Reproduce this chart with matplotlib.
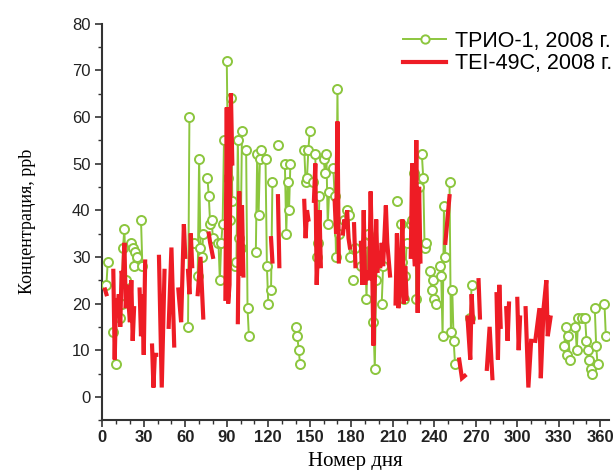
import numpy as np
import matplotlib
matplotlib.use("Agg")
import matplotlib.pyplot as plt
from matplotlib.ticker import MultipleLocator

nan = np.nan

# TRIO-1 daily values (day of year, ppb); gaps where days are missing
trio_day = [3, 4, 8, 10, 13, 14, 15, 16, 17, 21, 22, 23, 24, 25, 28, 29,
            62, 63, 66, 69, 70, 71, 72, 73, 76, 77, 78, 79, 80, 84, 85, 86, 87, 88,
            90, 91, 92, 93, 94, 96, 97, 98, 99, 100, 101, 104, 105, 106,
            111, 112, 113, 114, 115, 118, 119, 120, 122, 123, 127, 132, 133, 134, 135, 136,
            140, 141, 142, 143,
            146, 147, 148, 149, 150, 152, 154, 155, 156, 157, 160, 161, 162, 163, 164,
            167, 168, 169, 170, 171, 175, 177, 178, 179, 181, 183, 187, 190, 191, 192,
            196, 197, 198, 199, 202, 203,
            213, 216, 217, 218, 219, 220, 223, 224, 225, 226, 227, 229, 231, 232, 233, 234,
            237, 238, 239, 240, 241, 244, 245, 246, 247, 248, 251, 252, 253, 254, 255,
            266, 267,
            334, 335, 336, 337, 338, 342, 343, 344, 347, 349, 350, 351, 352, 353, 354,
            356, 357, 358, 363, 364]
trio_val = [24, 29, 14, 7, 17, 20, 32, 36, 25, 33, 32, 28, 31, 30, 38, 28,
            15, 60, 33, 26, 51, 32, 30, 35, 47, 43, 37, 38, 34, 33, 25, 33, 37, 55,
            72, 47, 38, 64, 42, 28, 29, 55, 34, 32, 57, 53, 19, 13,
            31, 52, 39, 51, 53, 51, 28, 20, 23, 46, 54, 50, 35, 46, 40, 50,
            15, 13, 10, 7,
            53, 46, 47, 53, 57, 46, 52, 30, 33, 43, 51, 48, 52, 37, 44,
            49, 43, 30, 66, 35, 38, 40, 39, 30, 25, 32, 28, 33, 21, 35,
            16, 6, 25, 30, 20, 28,
            42, 37, 29, 21, 26, 33, 37, 38, 48, 44, 21, 45, 52, 47, 32, 33,
            27, 23, 25, 21, 20, 28, 26, 13, 41, 30, 46, 14, 23, 12, 7,
            17, 24,
            11, 15, 9, 13, 8, 15, 10, 17, 17, 17, 12, 10, 8, 6, 5,
            19, 11, 7, 20, 13]

# TEI-49C values, nan separates the measured runs
tei_day = [2, 3, nan,
           8, 9, 10, 11, 12, 13, 14, 15, 16, 17, 18, 19, 20, 21, 22, 23, nan,
           27, 28, 29, 30, 31, nan,
           36, 37, 38, 39, nan,
           41, 43, 45, nan,
           48, 50, 52, nan,
           55, 57, 59, 60, nan,
           62, 63, 64, 65, nan,
           69, 71, 73, nan,
           77, 78, 80, nan,
           89, 90, 91, 92, 93, 94, nan,
           98, 99, 100, 101, 102, nan,
           122, 123, nan,
           127, 128, nan,
           146, 147, 148, 149, nan,
           153, 154, 155, 156, 157, 158, nan,
           168, 169, 170, 171, nan,
           174, 175, 176, 177, 178, 179, nan,
           182, 183, nan,
           187, 188, 189, 190, 191, 193, 194, 195, 196, 197, 198, 199, nan,
           201, 202, 203, 205, 206, 208, nan,
           212, 213, 214, 215, 216, 217, 218, 219, 220, nan,
           223, 224, 225, 226, 227, 228, 229, 230, nan,
           248, 251, nan,
           258, 260, 262, nan,
           264, 266, 267, 268, nan,
           272, 273, nan,
           278, 280, 282, nan,
           285, 286, 287, 288, nan,
           292, 293, 294, nan,
           300, 301, 302, nan,
           306, 308, 310, nan,
           313, 316, 317, 319, 321, 322, 324]
tei_val = [23, 22, nan,
           27, 8, 21, 19, 22, 15, 27, 25, 33, 19, 24, 20, 16, 25, 12, 19, nan,
           23, 13, 22, 9, 29, nan,
           11, 2, 9, 9, nan,
           30, 2, 27, nan,
           15, 32, 11, nan,
           23, 16, 37, 30, nan,
           27, 22, 35, 28, nan,
           22, 30, 17, nan,
           35, 33, 30, nan,
           21, 62, 20, 24, 65, 50, nan,
           16, 44, 26, 41, 26, nan,
           34, 29, nan,
           43, 28, nan,
           42, 34, 40, 38, nan,
           42, 50, 24, 33, 40, 28, nan,
           42, 35, 59, 29, nan,
           35, 38, 36, 40, 34, 32, nan,
           37, 28, nan,
           33, 24, 40, 24, 27, 25, 44, 30, 11, 25, 38, 27, nan,
           28, 33, 28, 41, 33, 26, nan,
           20, 35, 19, 22, 30, 38, 20, 28, 21, nan,
           30, 50, 33, 28, 55, 18, 45, 29, nan,
           33, 43, nan,
           8, 4, 4.5, nan,
           17, 8, 22, 16, nan,
           25, 17, nan,
           6, 15, 4, nan,
           22, 8, 24, 15, nan,
           19, 12, 20, nan,
           21, 10, 17, nan,
           19, 2, 12, nan,
           12, 19, 4, 19, 25, 13, 17]

green = '#8cc63e'
red = '#ee1c25'

# break the TRIO line where days are not consecutive
td = np.array(trio_day, dtype=float)
tv = np.array(trio_val, dtype=float)
brk = np.where(np.diff(td) > 1)[0] + 1
td_line = np.insert(td, brk, nan)
tv_line = np.insert(tv, brk, nan)

fig = plt.figure(figsize=(6.16, 4.70), dpi=100, facecolor='white')
ax = fig.add_axes([0.166, 0.106, 0.822, 0.844])

ax.plot(td_line, tv_line, color=green, lw=1.4, zorder=2)
ax.plot(td, tv, linestyle='none', marker='o', ms=6.5, mfc='white',
        mec=green, mew=1.4, zorder=3)
ax.plot(tei_day, tei_val, color=red, lw=3.0, solid_joinstyle='miter', zorder=4)

# legend handles
h1, = ax.plot([], [], color=green, lw=1.4, marker='o', ms=6, mfc='white',
              mec=green, mew=1.4)
h2, = ax.plot([], [], color=red, lw=3.0)
leg = ax.legend([h1, h2], ['ТРИО-1, 2008 г.', 'TEI-49C, 2008 г.'],
                loc='upper right', bbox_to_anchor=(1.045, 1.03), frameon=False,
                prop={'family': 'Liberation Sans', 'size': 15.5},
                handlelength=2.0, handletextpad=0.4, labelspacing=0.05)

ax.set_xlim(0, 366)
ax.set_ylim(-5, 80)
ax.spines['top'].set_visible(False)
ax.spines['right'].set_visible(False)
for s in ['left', 'bottom']:
    ax.spines[s].set_linewidth(1.5)
    ax.spines[s].set_color('#333333')

ax.xaxis.set_major_locator(MultipleLocator(30))
ax.xaxis.set_minor_locator(MultipleLocator(10))
ax.yaxis.set_major_locator(MultipleLocator(10))
ax.yaxis.set_minor_locator(MultipleLocator(5))
ax.set_yticks(np.arange(0, 81, 10))
ax.tick_params(which='major', direction='out', length=5, width=1.2, colors='#333333')
ax.tick_params(which='minor', direction='out', length=3, width=1.0, colors='#333333')
ax.tick_params(axis='x', pad=2)

for lab in ax.get_xticklabels():
    lab.set_fontfamily('Liberation Sans')
    lab.set_fontweight('bold')
    lab.set_fontsize(12)
    lab.set_color('#222222')
for lab in ax.get_yticklabels():
    lab.set_fontfamily('Liberation Sans')
    lab.set_fontsize(12)
    lab.set_color('#222222')

ax.set_xlabel('Номер дня', family='Liberation Serif', fontsize=15, labelpad=5)
ax.set_ylabel('Концентрация, ppb', family='Liberation Serif', fontsize=13, labelpad=26)

fig.savefig('out.png', dpi=100, facecolor='white')
